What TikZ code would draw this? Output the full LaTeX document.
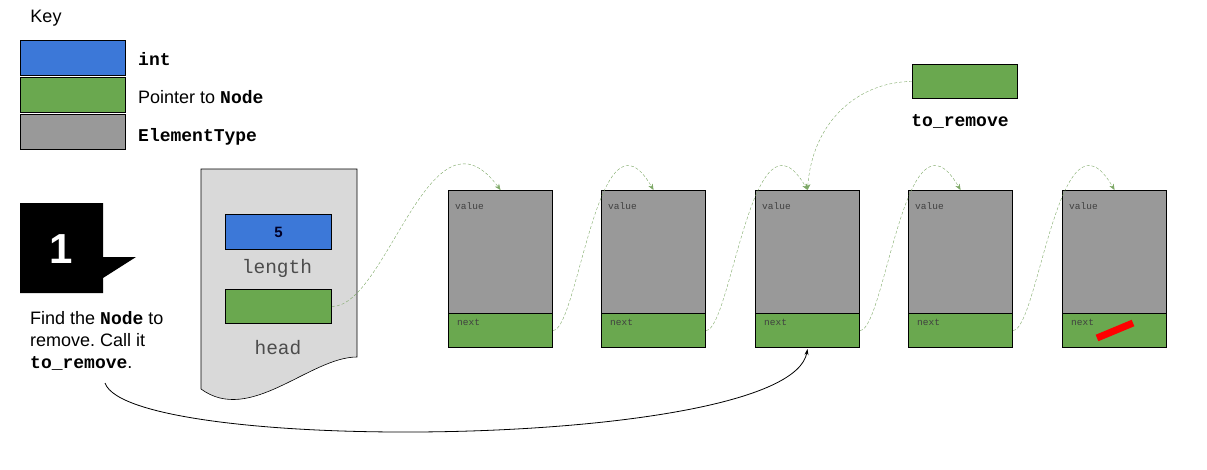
\documentclass[tikz,border=0pt]{standalone}
\usepackage{fontspec}
\setmainfont{Liberation Sans}
\setmonofont{Liberation Mono}
\usetikzlibrary{arrows.meta}
\definecolor{intblue}{HTML}{3C78D8}
\definecolor{ptrgreen}{HTML}{6AA84F}
\definecolor{elemgray}{HTML}{999999}
\definecolor{headgray}{HTML}{D9D9D9}
\definecolor{linkgreen}{HTML}{7DA866}
\frenchspacing

\begin{document}
\begin{tikzpicture}[x=1pt,y=-1pt,
    box/.style={draw,line width=1pt,inner sep=0pt,anchor=north west},
    keybox/.style={box,minimum width=105pt,minimum height=35pt},
    valbox/.style={box,fill=elemgray,minimum width=104pt,minimum height=123pt},
    nextbox/.style={box,fill=ptrgreen,minimum width=104pt,minimum height=34pt},
    fieldlbl/.style={anchor=west,inner sep=0pt,font=\fontsize{9.5}{10}\ttfamily,text=black!75},
    link/.style={draw=linkgreen,dash pattern=on 3pt off 2pt,-{Stealth[length=6pt,width=5pt]},fill=none},
    txt/.style={inner sep=0pt,font=\fontsize{18}{22}\selectfont}]
    \useasboundingbox (0,0) rectangle (1207,469);

    %key
    \node[txt] (key) at (46,18) {Key};
    \node[keybox,fill=intblue] (kint) at (20,40) {};
    \node[keybox,fill=ptrgreen] (kptr) at (20,77) {};
    \node[keybox,fill=elemgray] (kelem) at (20,114) {};
    \node[txt,anchor=west] (lint) at (138,59) {\textbf{\texttt{int}}};
    \node[txt,anchor=west] (lptr) at (138,97) {Pointer to \textbf{\texttt{Node}}};
    \node[txt,anchor=west] (lelem) at (138,137) {\textbf{\texttt{ElementType}}};

    %step 1
    \fill (20,203) -- (103,203) -- (103,257) -- (136,257) -- (103,278) -- (103,293) -- (20,293) -- cycle;
    \node[inner sep=0pt,text=white,font=\fontsize{42}{42}\selectfont\bfseries] (one) at (61,249) {1};
    \node[txt,anchor=north west,align=left] (find) at (30,311)
        {Find the \textbf{\texttt{Node}} to\\remove. Call it\\\textbf{\texttt{to\_remove}}.};

    %list header
    \path[draw,fill=headgray,line width=0.6pt] (201,169) -- (357,169) -- (357,357)
        .. controls (310,357) and (250,425) .. (201,389) -- cycle;
    \node[box,fill=intblue,minimum width=106pt,minimum height=35pt] (len) at (225,214) {};
    \node[inner sep=0pt,font=\fontsize{15}{15}\selectfont\bfseries,text=black!85!blue] (lenval) at (len.center) {5};
    \node[inner sep=0pt,font=\fontsize{19.5}{20}\ttfamily,text=black!70] (lenlbl) at (277,268) {length};
    \node[box,fill=ptrgreen,minimum width=106pt,minimum height=34pt] (hd) at (225,289) {};
    \node[inner sep=0pt,font=\fontsize{19.5}{20}\ttfamily,text=black!70] (hdlbl) at (278,348) {head};

    %list nodes
    \node[valbox] (v1) at (448,190) {};
    \node[nextbox] (n1) at (448,313) {};
    \node[valbox] (v2) at (601,190) {};
    \node[nextbox] (n2) at (601,313) {};
    \node[valbox] (v3) at (755,190) {};
    \node[nextbox] (n3) at (755,313) {};
    \node[valbox] (v4) at (908,190) {};
    \node[nextbox] (n4) at (908,313) {};
    \node[valbox] (v5) at (1062,190) {};
    \node[nextbox] (n5) at (1062,313) {};
    \node[fieldlbl] at ([xshift=7pt,yshift=-16pt]v1.north west) {value};
    \node[fieldlbl] at ([xshift=7pt,yshift=-16pt]v2.north west) {value};
    \node[fieldlbl] at ([xshift=7pt,yshift=-16pt]v3.north west) {value};
    \node[fieldlbl] at ([xshift=7pt,yshift=-16pt]v4.north west) {value};
    \node[fieldlbl] at ([xshift=7pt,yshift=-16pt]v5.north west) {value};
    \node[fieldlbl] at ([xshift=9pt,yshift=-9pt]n1.north west) {next};
    \node[fieldlbl] at ([xshift=9pt,yshift=-9pt]n2.north west) {next};
    \node[fieldlbl] at ([xshift=9pt,yshift=-9pt]n3.north west) {next};
    \node[fieldlbl] at ([xshift=9pt,yshift=-9pt]n4.north west) {next};
    \node[fieldlbl] at ([xshift=9pt,yshift=-9pt]n5.north west) {next};
    % null next
    \draw[red,line width=7pt] (1097,338) -- (1133,323);

    %to_remove
    \node[box,fill=ptrgreen,minimum width=105pt,minimum height=34pt] (tr) at (912,64) {};
    \node[inner sep=0pt,font=\fontsize{18}{20}\ttfamily\bfseries] (trlbl) at (960,121) {to\_remove};

    %links
    \path[link] (hd.east) .. controls +(55,0) and +(-70,-95) .. (v1.north);
    \path[link] (n1.east) .. controls +(25,0) and +(-55,-95) .. (v2.north);
    \path[link] (n2.east) .. controls +(25,0) and +(-55,-95) .. (v3.north);
    \path[link] (n3.east) .. controls +(25,0) and +(-55,-95) .. (v4.north);
    \path[link] (n4.east) .. controls +(25,0) and +(-55,-95) .. (v5.north);
    \path[link] (tr.west) .. controls +(-52,0) and +(5,-70) .. (v3.north);
    \coordinate (findend) at (105,383);
    \draw[-{Stealth[length=6pt,width=4pt]},line width=0.8pt] (findend) .. controls +(25,72) and +(-18,101) .. ([yshift=-1pt]n3.south);
\end{tikzpicture}
\end{document}
